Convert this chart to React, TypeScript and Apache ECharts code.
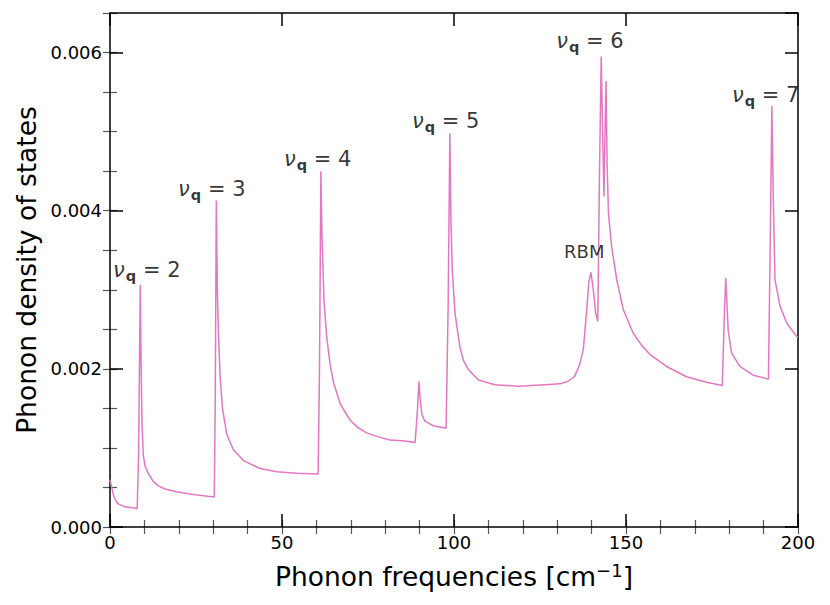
import React, { useEffect, useRef } from "react";
import * as echarts from "echarts";

// Phonon frequencies [cm^-1]
const freq = [
  0, 0.4, 0.8, 1.2, 1.6, 2.2, 3.0, 4.0, 5.5, 7.0, 7.9, 8.3, 8.6, 8.8, 9.0, 9.3, 9.7, 10.2, 11.1, 12.5, 14, 16, 19,
  22.8, 26, 30.3,
  30.6, 30.9, 31.2, 31.5, 32.0, 32.7, 33.9, 35.8, 38.8, 43.6, 48.5, 54.3, 60.5,
  60.9, 61.3, 61.6, 62.2, 63, 64, 65, 67, 69.8, 72, 74.6, 78, 81.4, 85, 88.7,
  89.4, 89.8, 90.2, 90.7, 91.5, 94, 97.7,
  98.3, 98.8, 99.1, 99.5, 100.3, 101.7, 102.8, 104.2, 107.1, 111.9, 118.7, 126.5, 130.8, 133.0, 135.0,
  136.5, 137.6, 138.5, 139.2, 139.8, 140.5, 141.2, 141.8, 142.3, 142.8, 143.2, 143.6, 143.9, 144.2, 144.5,
  144.9, 145.8, 147.3, 149.2, 152.1, 154.5, 157, 161.8, 167.6, 173.4, 178,
  178.6, 179.0, 179.7, 180.7, 183.1, 187, 191.4,
  191.9, 192.4, 192.8, 193.3, 194.8, 196.7, 199.6, 200,
];

// Phonon density of states
const dos = [
  0.0006, 0.00052, 0.00044, 0.00038, 0.00034, 0.0003, 0.00028, 0.00026, 0.00025, 0.00024, 0.00023, 0.0009, 0.0022, 0.00306, 0.0022, 0.0013, 0.0009, 0.00077, 0.00068, 0.00058, 0.00052, 0.00048, 0.00045,
  0.00042, 0.0004, 0.00038,
  0.0016, 0.00413, 0.003, 0.00249, 0.0019, 0.0015, 0.00118, 0.00098, 0.00084, 0.00074, 0.0007, 0.00068, 0.00067,
  0.002, 0.0045, 0.00372, 0.00287, 0.0024, 0.00205, 0.00182, 0.00155, 0.00135, 0.00126, 0.00119, 0.00114, 0.0011, 0.00109, 0.00107,
  0.0015, 0.00184, 0.0016, 0.00142, 0.00134, 0.00128, 0.00125,
  0.0028, 0.00498, 0.00389, 0.00325, 0.0027, 0.00228, 0.0021, 0.00199, 0.00186, 0.0018, 0.00178, 0.0018, 0.00181, 0.00184, 0.0019,
  0.00205, 0.00225, 0.0027, 0.0031, 0.00322, 0.003, 0.0027, 0.0026, 0.0045, 0.00595, 0.005, 0.00418, 0.005, 0.00564, 0.0046,
  0.00397, 0.00355, 0.00313, 0.00275, 0.00245, 0.0023, 0.00218, 0.00203, 0.0019, 0.00183, 0.00179,
  0.0027, 0.00315, 0.00249, 0.0022, 0.00203, 0.00192, 0.00187,
  0.0035, 0.00532, 0.0042, 0.00313, 0.00279, 0.00258, 0.00241, 0.0024,
];

// Annotations (ν_q labels and RBM)
const labelFreq = [0.9, 19.8, 50.6, 87.8, 129.7, 180.8];
const labelDos = [0.00325, 0.00428, 0.00465, 0.00514, 0.00614, 0.00546];
const labelNu = ["2", "3", "4", "5", "6", "7"];
const rbmFreq = 132;
const rbmDos = 0.00349;

const xTicks = { min: 0, max: 200, interval: 50, minor: 10 };
const yTicks = { min: 0, max: 0.0065, interval: 0.002, minor: 0.0005 };

const FONT = "DejaVu Sans";

export default function App() {
  const ref = useRef<HTMLDivElement>(null);
  useEffect(() => {
    if (!ref.current) return;
    const chart = echarts.init(ref.current, undefined, { renderer: "svg" });
    const lineData = freq.map((f, i) => [f, dos[i]]);
    const labelData = labelFreq.map((f, i) => ({ value: [f, labelDos[i]], nu: labelNu[i] }));

    const majorTick = { show: true, inside: true, length: 13, lineStyle: { color: "#000", width: 1.5 } };
    const minorTickStyle = { show: true, inside: true, length: 7, lineStyle: { color: "#555", width: 1.2 } };
    const axisLine = { show: true, onZero: false, lineStyle: { color: "#000", width: 1.5 } };

    const xMajor = {
      type: "value",
      min: xTicks.min,
      max: xTicks.max,
      interval: xTicks.interval,
      splitLine: { show: false },
      axisLine,
      axisTick: majorTick,
      z: 3,
    };
    const xMinor = {
      type: "value",
      min: xTicks.min,
      max: xTicks.max,
      interval: xTicks.minor,
      splitLine: { show: false },
      axisLine: { show: false },
      axisTick: minorTickStyle,
      axisLabel: { show: false },
      z: 2,
    };
    const yMajor = {
      type: "value",
      min: yTicks.min,
      max: yTicks.max,
      interval: yTicks.interval,
      splitLine: { show: false },
      axisLine,
      axisTick: majorTick,
      z: 3,
    };
    const yMinor = {
      type: "value",
      min: yTicks.min,
      max: yTicks.max,
      interval: yTicks.minor,
      splitLine: { show: false },
      axisLine: { show: false },
      axisTick: minorTickStyle,
      axisLabel: { show: false },
      z: 2,
    };

    chart.setOption({
      animation: false,
      backgroundColor: "#fff",
      grid: { left: 110, right: 32, top: 13, bottom: 78, containLabel: false },
      xAxis: [
        {
          ...xMajor,
          position: "bottom",
          axisLabel: { show: true, color: "#000", fontSize: 18, fontFamily: FONT, margin: 6 },
          name: "{a|Phonon frequencies [cm}{s|−1}{a|]}",
          nameLocation: "middle",
          nameGap: 34,
          nameTextStyle: {
            rich: {
              a: { fontSize: 26.5, fontFamily: FONT, color: "#000" },
              s: { fontSize: 18, fontFamily: FONT, color: "#000", padding: [0, 0, 12, 0] },
            },
          },
        },
        { ...xMinor, position: "bottom" },
        { ...xMajor, position: "top", axisLabel: { show: false } },
        { ...xMinor, position: "top" },
      ],
      yAxis: [
        {
          ...yMajor,
          position: "left",
          axisLabel: {
            show: true,
            color: "#000",
            fontSize: 18,
            fontFamily: FONT,
            margin: 8,
            showMaxLabel: false,
            formatter: (v: number) => {
              const k = v / yTicks.interval;
              return Math.abs(k - Math.round(k)) < 1e-6 ? v.toFixed(3) : "";
            },
          },
          name: "Phonon density of states",
          nameLocation: "middle",
          nameGap: 69,
          nameTextStyle: { fontSize: 26.5, fontFamily: FONT, color: "#000" },
        },
        { ...yMinor, position: "left" },
        { ...yMajor, position: "right", axisLabel: { show: false } },
        { ...yMinor, position: "right" },
      ],
      series: [
        {
          type: "line",
          xAxisIndex: 0,
          yAxisIndex: 0,
          data: lineData,
          showSymbol: false,
          symbol: "none",
          lineStyle: { color: "#e377c2", width: 1.5 },
          z: 5,
        },
        {
          type: "scatter",
          xAxisIndex: 0,
          yAxisIndex: 0,
          data: labelData,
          symbolSize: 0,
          silent: true,
          label: {
            show: true,
            position: "right",
            distance: 0,
            formatter: (p: any) => `{nu|ν}{q|q}{t| = ${p.data.nu}}`,
            rich: {
              nu: { fontSize: 21, fontFamily: FONT, fontStyle: "italic", color: "#000" },
              q: { fontSize: 14.5, fontFamily: FONT, fontWeight: "bold", color: "#000", padding: [12, 0, 0, 1] },
              t: { fontSize: 21, fontFamily: FONT, color: "#000" },
            },
          },
          z: 6,
        },
        {
          type: "scatter",
          xAxisIndex: 0,
          yAxisIndex: 0,
          data: [[rbmFreq, rbmDos]],
          symbolSize: 0,
          silent: true,
          label: {
            show: true,
            position: "right",
            distance: 0,
            formatter: "RBM",
            fontSize: 18,
            fontFamily: FONT,
            color: "#000",
          },
          z: 6,
        },
      ],
    });
    return () => chart.dispose();
  }, []);
  return (
    <div
      ref={ref}
      style={{ position: "fixed", left: 0, top: 0, width: 830, height: 605, background: "#fff" }}
    />
  );
}
